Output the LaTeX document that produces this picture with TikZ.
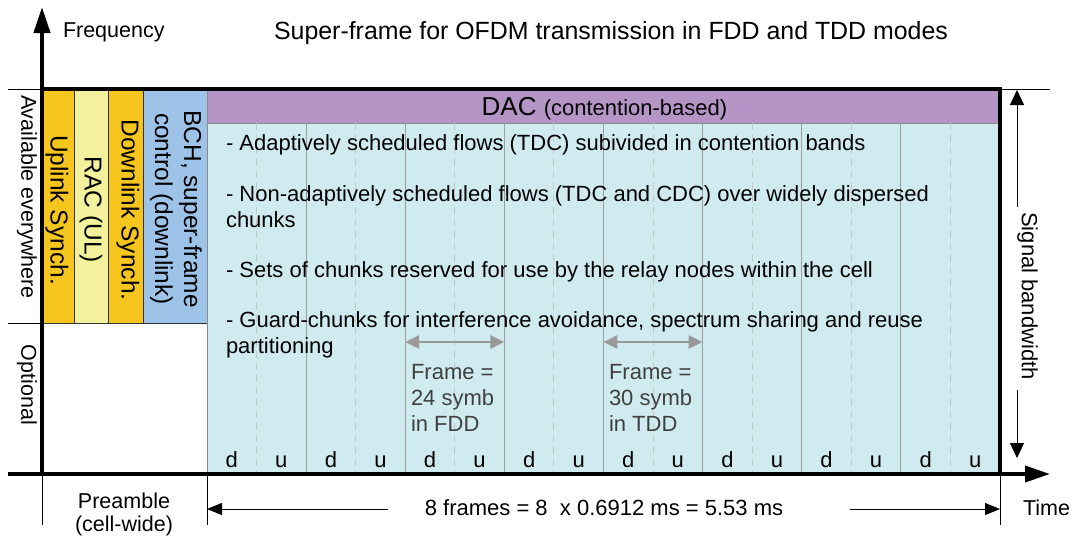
\documentclass[tikz,border=0pt]{standalone}
\usepackage{fontspec}
\setmainfont{Liberation Sans}
\usetikzlibrary{arrows.meta}
\definecolor{syncY}{HTML}{F6C61F}
\definecolor{racY}{HTML}{F4F19D}
\definecolor{bchB}{HTML}{9EC3E8}
\definecolor{dacP}{HTML}{B594C6}
\definecolor{bodyC}{HTML}{CFEBF0}
\definecolor{annot}{HTML}{404040}
\begin{document}
\begin{tikzpicture}[x=1pt,y=-1pt,
  every node/.style={inner sep=0pt,outer sep=0pt},
  bodytxt/.style={font=\fontsize{22}{26}\selectfont, anchor=base west},
  plaintxt/.style={font=\fontsize{21.5}{25}\selectfont},
  collab/.style={font=\fontsize{24.5}{29}\selectfont, rotate=-90, align=center, anchor=center},
  sidelab/.style={font=\fontsize{21.5}{25}\selectfont, rotate=-90, anchor=center},
  cell/.style={draw=black!80, line width=0.8pt, anchor=north west},
  gridsolid/.style={draw=black!38, line width=1pt},
  griddash/.style={draw=black!22, line width=1pt, dash pattern=on 7pt off 5pt},
  thickline/.style={line width=4pt},
  thinline/.style={line width=1pt},
  graytxt/.style={font=\fontsize{22}{26}\selectfont, text=annot, anchor=base west},
  grayarrow/.style={draw=black!40, line width=2.5pt, {Triangle[length=14pt,width=13pt]}-{Triangle[length=14pt,width=13pt]}},
  durlab/.style={font=\fontsize{22}{26}\selectfont, anchor=base},
]
\useasboundingbox (0,0) rectangle (1072,536);

% preamble columns
\node[cell, fill=syncY, minimum width=32pt, minimum height=234pt] (ulbox) at (42,89) {};
\node[cell, fill=racY, minimum width=34pt, minimum height=234pt] (racbox) at (74,89) {};
\node[cell, fill=syncY, minimum width=35pt, minimum height=234pt] (dlbox) at (108,89) {};
\node[cell, fill=bchB, minimum width=64pt, minimum height=234pt] (bchbox) at (143,89) {};

% DAC area
\node[cell, draw=black!45, fill=bodyC, minimum width=793pt, minimum height=351pt] (body) at (207,123) {};
\node[cell, draw=black!45, fill=dacP, minimum width=793pt, minimum height=34pt] (dac) at (207,89) {};

% grid lines
\foreach \k in {2,4,...,14} {
  \pgfmathsetmacro\xx{207+\k*49.5625}
  \draw[gridsolid] (\xx,123) -- (\xx,474);
}
\foreach \k in {1,3,...,15} {
  \pgfmathsetmacro\xx{207+\k*49.5625}
  \draw[griddash] (\xx,123) -- (\xx,474);
}
\foreach \k in {0,2,...,14} {
  \pgfmathsetmacro\xc{207+(\k+0.5)*49.5625}
  \node[durlab] (lab\k) at (\xc,467) {d};
}
\foreach \k in {1,3,...,15} {
  \pgfmathsetmacro\xc{207+(\k+0.5)*49.5625}
  \node[durlab] (lab\k) at (\xc,467) {u};
}

% header text
\node[anchor=base] (dactxt) at (604.5,115) {\fontsize{26}{30}\selectfont DAC \fontsize{22}{26}\selectfont(contention-based)};

% body text
\node[bodytxt] (t1) at (226,150) {- Adaptively scheduled flows (TDC) subivided in contention bands};
\node[bodytxt] (t2) at (226,201) {- Non-adaptively scheduled flows (TDC and CDC) over widely dispersed};
\node[bodytxt] (t2b) at (226,227) {chunks};
\node[bodytxt] (t3) at (226,277) {- Sets of chunks reserved for use by the relay nodes within the cell};
\node[bodytxt] (t4) at (226,327) {- Guard-chunks for interference avoidance, spectrum sharing and reuse};
\node[bodytxt] (t4b) at (226,353) {partitioning};

% frame annotations
\coordinate (fa1) at (405.2,342);
\coordinate (fa2) at (504.3,342);
\coordinate (fb1) at (603.4,342);
\coordinate (fb2) at (702.5,342);
\draw[grayarrow] (fa1) -- (fa2);
\draw[grayarrow] (fb1) -- (fb2);
\node[graytxt] (fdd1) at (411,379) {Frame =};
\node[graytxt] (fdd2) at (411,405) {24 symb};
\node[graytxt] (fdd3) at (411,431) {in FDD};
\node[graytxt] (tdd1) at (609,379) {Frame =};
\node[graytxt] (tdd2) at (609,405) {30 symb};
\node[graytxt] (tdd3) at (609,431) {in TDD};

% column labels
\node[collab] (ultxt) at (57,210) {Uplink Synch.};
\node[collab] (ractxt) at (91,210) {RAC (UL)};
\node[collab] (dltxt) at (128,210) {Downlink Synch.};
\node[collab] (bchtxt) at (176,209) {BCH, super-frame\\control (downlink)};

% left labels
\node[sidelab] (avail) at (27,197) {Available everywhere};
\node[sidelab] (opt) at (27,385) {Optional};

% thin guide lines
\draw[thinline] (8,89) -- (1050,89);
\draw[thinline] (8,323) -- (42,323);
\draw[thinline] (42,474) -- (42,525);
\draw[thinline] (207,474) -- (207,525);
\draw[thinline] (1000,474) -- (1000,525);

% main frame
\draw[thickline] (42,89) rectangle (1000,474);

% axes
\coordinate (fTip) at (42,7);
\coordinate (tTip) at (1050,474);
\draw[thickline, -{Triangle[length=26pt,width=16pt]}] (42,476) -- (fTip);
\draw[thickline, -{Triangle[length=25pt,width=16pt]}] (8,474) -- (tTip);

% titles
\node[plaintxt, anchor=base west] (freq) at (63,37) {Frequency};
\node[font=\fontsize{24.9}{29}\selectfont, anchor=base] (title) at (611,39) {Super-frame for OFDM transmission in FDD and TDD modes};
\node[plaintxt, anchor=base west] (time) at (1023,515) {Time};

% signal bandwidth
\coordinate (sbTop) at (1017,90);
\coordinate (sbBot) at (1017,458);
\node[sidelab, font=\fontsize{22}{26}\selectfont] (sb) at (1027.5,296) {Signal bandwidth};
\draw[thinline, -{Triangle[length=15pt,width=14pt]}] ([yshift=5pt]sb.west -| sbTop) -- (sbTop);
\draw[thinline, -{Triangle[length=15pt,width=14pt]}] ([yshift=-10pt]sb.east -| sbBot) -- (sbBot);

% bottom labels
\node[plaintxt, anchor=base] (pre1) at (124,508) {Preamble};
\node[plaintxt, anchor=base] (pre2) at (124,531) {(cell-wide)};
\coordinate (spanL) at (207,509);
\coordinate (spanR) at (1000,509);
\node[durlab] (eq) at (604,515) {8 frames = 8~ x 0.6912 ms = 5.53 ms};
\draw[thinline, -{Triangle[length=15pt,width=12pt]}] ([xshift=-37pt]eq.west |- spanL) -- (spanL);
\draw[thinline, -{Triangle[length=15pt,width=12pt]}] ([xshift=67pt]eq.east |- spanR) -- (spanR);
\end{tikzpicture}
\end{document}
